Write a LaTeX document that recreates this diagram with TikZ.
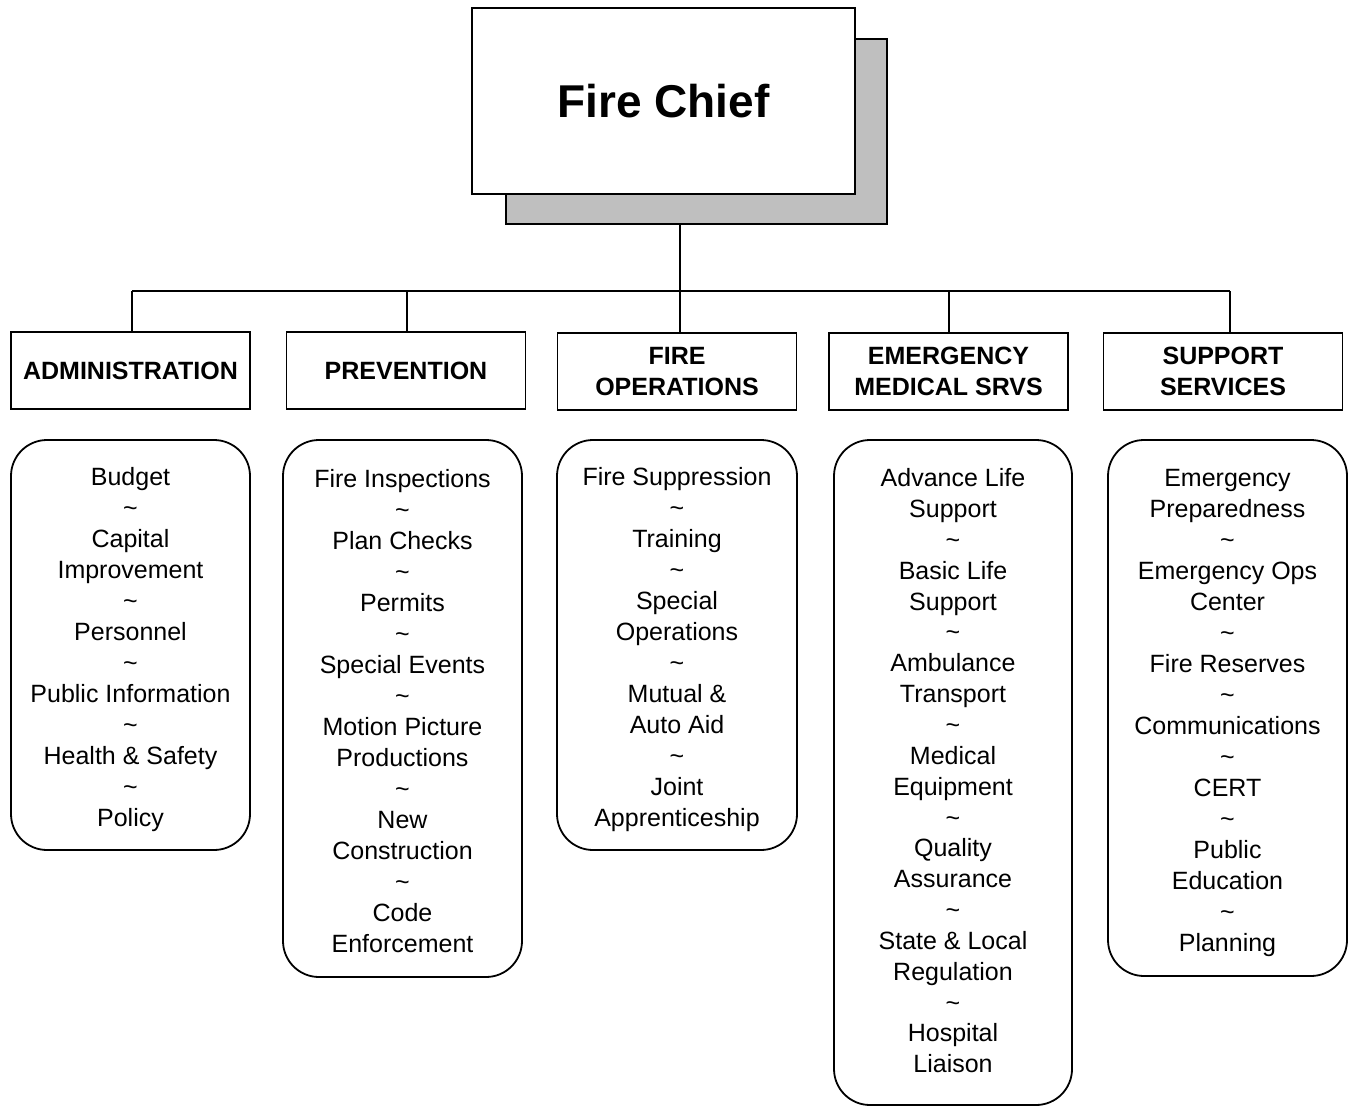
\documentclass[tikz,border=0pt]{standalone}
\usepackage{fontspec}
\setmainfont{Liberation Sans}
\newcommand{\mytilde}{\textasciitilde}
\newcommand{\topstrut}{\rule{0pt}{28pt}}
\newcommand{\emstopstrut}{\rule{0pt}{20pt}}
\newcommand{\botstrut}{\rule[-5.5pt]{0pt}{5.5pt}}
\begin{document}
\begin{tikzpicture}[x=1pt,y=-1pt,
  hdrbox/.style={draw, line width=1.8pt, minimum width=239pt, minimum height=77pt, inner sep=0pt,
    font=\bfseries\fontsize{25}{31}\selectfont, align=center},
  listbox/.style={draw, line width=1.8pt, rounded corners=36pt, minimum width=239pt, inner sep=0pt,
    font=\fontsize{25}{31}\selectfont, align=center},
  wire/.style={draw, line width=1.8pt}]
\useasboundingbox (0,0) rectangle (1348,1107);
% Fire chief with shadow
\node[draw, line width=1.8pt, fill=black!25, minimum width=381pt, minimum height=185pt, inner sep=0pt] (shadow) at (696.5,131.5) {};
\node[draw, line width=1.8pt, fill=white, minimum width=383pt, minimum height=186pt, inner sep=0pt,
  font=\bfseries\fontsize{46}{55}\selectfont] (chief) at (663.5,101) {Fire Chief};
% headers
\node[hdrbox] (h1) at (130.5,370.5) {ADMINISTRATION};
\node[hdrbox] (h2) at (406,370.5) {PREVENTION};
\node[hdrbox] (h3) at (677,371.5) {FIRE\\OPERATIONS};
\node[hdrbox] (h4) at (948.5,371.5) {EMERGENCY\\MEDICAL SRVS};
\node[hdrbox] (h5) at (1223,371.5) {SUPPORT\\SERVICES};
% bus
\coordinate (jc) at (680,291);
\coordinate (j1) at (132,291);
\coordinate (j2) at (407,291);
\coordinate (j3) at (680,291);
\coordinate (j4) at (949,291);
\coordinate (j5) at (1230,291);
\draw[wire] (shadow.south -| jc) -- (jc);
\draw[wire] (j1) -- (j5);
\draw[wire] (j1) -- (h1.north -| j1);
\draw[wire] (j2) -- (h2.north -| j2);
\draw[wire] (j3) -- (h3.north -| j3);
\draw[wire] (j4) -- (h4.north -| j4);
\draw[wire] (j5) -- (h5.north -| j5);
% lists
\node[listbox, minimum height=410pt] (l1) at (130.5,645) {\topstrut Budget\\\mytilde\\Capital\\Improvement\\\mytilde\\Personnel\\\mytilde\\Public Information\\\mytilde\\Health \& Safety\\\mytilde\\Policy\botstrut};
\node[listbox, minimum height=537pt] (l2) at (402.5,708.5) {\topstrut Fire Inspections\\\mytilde\\Plan Checks\\\mytilde\\Permits\\\mytilde\\Special Events\\\mytilde\\Motion Picture\\Productions\\\mytilde\\New\\Construction\\\mytilde\\Code\\Enforcement\botstrut};
\node[listbox, minimum height=410pt, minimum width=240pt] (l3) at (677,645) {\topstrut Fire Suppression\\\mytilde\\Training\\\mytilde\\Special\\Operations\\\mytilde\\Mutual \&\\Auto Aid\\\mytilde\\Joint\\Apprenticeship\botstrut};
\node[listbox, minimum height=665pt, minimum width=238pt, font=\fontsize{25}{30.85}\selectfont] (l4) at (953,772.5) {\emstopstrut Advance Life\\Support\\\mytilde\\Basic Life\\Support\\\mytilde\\Ambulance\\Transport\\\mytilde\\Medical\\Equipment\\\mytilde\\Quality\\Assurance\\\mytilde\\State \& Local\\Regulation\\\mytilde\\Hospital\\Liaison\botstrut};
\node[listbox, minimum height=536pt] (l5) at (1227.5,708) {\topstrut Emergency\\Preparedness\\\mytilde\\Emergency Ops\\Center\\\mytilde\\Fire Reserves\\\mytilde\\Communications\\\mytilde\\CERT\\\mytilde\\Public\\Education\\\mytilde\\Planning\botstrut};
\end{tikzpicture}
\end{document}
